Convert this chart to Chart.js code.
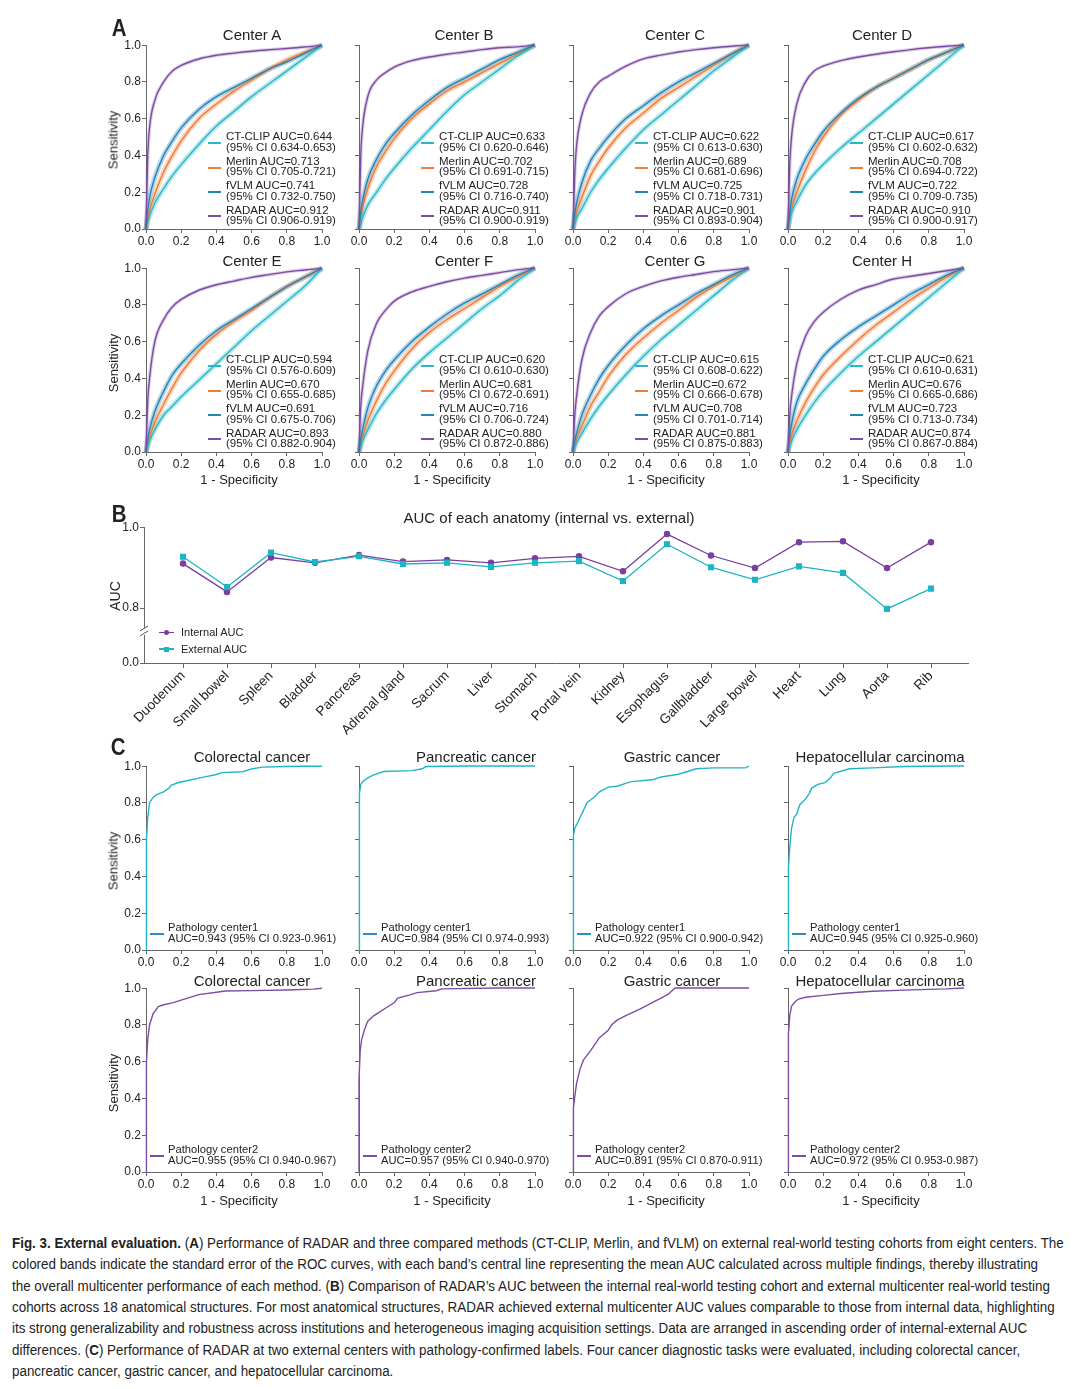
<!DOCTYPE html>
<html><head><meta charset="utf-8">
<script src="https://cdn.jsdelivr.net/npm/chart.js@4.4.1/dist/chart.umd.min.js"></script>
<style>
html,body{margin:0;padding:0;background:#fff;}
#page{position:relative;width:1080px;height:1389px;overflow:hidden;background:#fff;font-family:'Liberation Sans',Arial,sans-serif;color:#222;}
canvas{position:absolute;}
.t{position:absolute;white-space:nowrap;}
.cap{position:absolute;left:12px;white-space:nowrap;font-family:'Liberation Sans',Arial,sans-serif;color:#222;line-height:1;transform-origin:0 50%;}
</style></head><body><div id="page"></div>
<script>
// ---------------- DATA ----------------
// Panel A: false-positive rate grid at which the ROC curves were read
const FPR = [0,0.01,0.02,0.05,0.1,0.15,0.2,0.3,0.4,0.5,0.6,0.7,0.8,0.9,1];
const methods = ['CT-CLIP','Merlin','fVLM','RADAR'];
const centers = ['Center A','Center B','Center C','Center D','Center E','Center F','Center G','Center H'];

const ctclipA = [0,0.04,0.07,0.14,0.22,0.29,0.35,0.46,0.56,0.64,0.72,0.79,0.86,0.93,1];
const merlinA = [0,0.06,0.10,0.19,0.31,0.40,0.48,0.60,0.68,0.75,0.81,0.87,0.92,0.96,1];
const fvlmA   = [0,0.10,0.17,0.28,0.40,0.48,0.55,0.65,0.72,0.77,0.82,0.87,0.91,0.955,1];
const radarA  = [0,0.40,0.55,0.70,0.80,0.86,0.89,0.925,0.945,0.957,0.967,0.975,0.982,0.99,1];

const ctclipB = [0,0.03,0.06,0.13,0.20,0.27,0.33,0.44,0.54,0.64,0.73,0.80,0.87,0.94,1];
const merlinB = [0,0.07,0.12,0.22,0.34,0.42,0.49,0.60,0.68,0.75,0.80,0.85,0.90,0.95,1];
const fvlmB   = [0,0.09,0.15,0.27,0.38,0.46,0.52,0.62,0.70,0.77,0.82,0.87,0.92,0.96,1];
const radarB  = [0,0.40,0.55,0.72,0.81,0.85,0.88,0.915,0.935,0.95,0.962,0.975,0.985,0.99,1];

const ctclipC = [0,0.03,0.06,0.11,0.20,0.27,0.33,0.44,0.54,0.62,0.70,0.78,0.86,0.93,1];
const merlinC = [0,0.05,0.09,0.17,0.29,0.37,0.44,0.55,0.63,0.71,0.77,0.83,0.89,0.95,1];
const fvlmC   = [0,0.08,0.14,0.25,0.37,0.44,0.50,0.60,0.67,0.74,0.80,0.85,0.90,0.95,1];
const radarC  = [0,0.30,0.45,0.62,0.74,0.80,0.83,0.885,0.925,0.945,0.962,0.975,0.985,0.993,1];

const ctclipD = [0,0.05,0.09,0.15,0.24,0.30,0.35,0.44,0.52,0.60,0.68,0.76,0.84,0.92,1];
const merlinD = [0,0.06,0.11,0.20,0.32,0.42,0.50,0.62,0.70,0.77,0.82,0.87,0.92,0.96,1];
const fvlmD   = [0,0.09,0.16,0.27,0.38,0.46,0.53,0.63,0.71,0.77,0.82,0.87,0.92,0.96,1];
const radarD  = [0,0.35,0.50,0.68,0.80,0.86,0.885,0.915,0.935,0.95,0.963,0.975,0.985,0.993,1];

const ctclipE = [0,0.03,0.06,0.12,0.20,0.25,0.30,0.39,0.48,0.57,0.66,0.74,0.82,0.90,1];
const merlinE = [0,0.04,0.08,0.16,0.26,0.35,0.43,0.55,0.64,0.71,0.77,0.84,0.90,0.95,1];
const fvlmE   = [0,0.07,0.12,0.22,0.33,0.42,0.48,0.58,0.66,0.72,0.78,0.84,0.90,0.95,1];
const radarE  = [0,0.28,0.40,0.60,0.72,0.79,0.83,0.88,0.91,0.93,0.95,0.965,0.98,0.99,1];

const ctclipF = [0,0.03,0.06,0.12,0.21,0.28,0.34,0.45,0.54,0.62,0.70,0.78,0.85,0.93,1];
const merlinF = [0,0.04,0.08,0.17,0.28,0.37,0.44,0.56,0.65,0.72,0.78,0.84,0.90,0.95,1];
const fvlmF   = [0,0.07,0.12,0.24,0.36,0.44,0.50,0.60,0.68,0.75,0.81,0.86,0.91,0.96,1];
const radarF  = [0,0.25,0.35,0.55,0.70,0.77,0.82,0.87,0.90,0.925,0.945,0.96,0.975,0.99,1];

const ctclipG = [0,0.03,0.05,0.10,0.18,0.25,0.31,0.42,0.52,0.61,0.69,0.77,0.85,0.93,1];
const merlinG = [0,0.04,0.07,0.14,0.25,0.33,0.41,0.53,0.62,0.70,0.77,0.84,0.90,0.95,1];
const fvlmG   = [0,0.06,0.10,0.20,0.31,0.40,0.47,0.58,0.67,0.74,0.80,0.86,0.91,0.96,1];
const radarG  = [0,0.20,0.30,0.50,0.65,0.74,0.79,0.86,0.90,0.93,0.95,0.965,0.98,0.99,1];

const ctclipH = [0,0.03,0.06,0.12,0.20,0.27,0.33,0.43,0.52,0.60,0.68,0.76,0.84,0.92,1];
const merlinH = [0,0.05,0.09,0.17,0.27,0.35,0.42,0.52,0.61,0.69,0.76,0.83,0.89,0.95,1];
const fvlmH   = [0,0.09,0.15,0.27,0.37,0.45,0.52,0.61,0.68,0.74,0.80,0.86,0.91,0.96,1];
const radarH  = [0,0.20,0.30,0.48,0.63,0.71,0.76,0.83,0.88,0.91,0.94,0.955,0.97,0.985,1];

const aucA = ['0.644','0.713','0.741','0.912']; const ciA = ['0.634-0.653','0.705-0.721','0.732-0.750','0.906-0.919'];
const aucB = ['0.633','0.702','0.728','0.911']; const ciB = ['0.620-0.646','0.691-0.715','0.716-0.740','0.900-0.919'];
const aucC = ['0.622','0.689','0.725','0.901']; const ciC = ['0.613-0.630','0.681-0.696','0.718-0.731','0.893-0.904'];
const aucD = ['0.617','0.708','0.722','0.910']; const ciD = ['0.602-0.632','0.694-0.722','0.709-0.735','0.900-0.917'];
const aucE = ['0.594','0.670','0.691','0.893']; const ciE = ['0.576-0.609','0.655-0.685','0.675-0.706','0.882-0.904'];
const aucF = ['0.620','0.681','0.716','0.880']; const ciF = ['0.610-0.630','0.672-0.691','0.706-0.724','0.872-0.886'];
const aucG = ['0.615','0.672','0.708','0.881']; const ciG = ['0.608-0.622','0.666-0.678','0.701-0.714','0.875-0.883'];
const aucH = ['0.621','0.676','0.723','0.874']; const ciH = ['0.610-0.631','0.665-0.686','0.713-0.734','0.867-0.884'];

// Panel B
const anatomy = ['Duodenum','Small bowel','Spleen','Bladder','Pancreas','Adrenal gland','Sacrum','Liver','Stomach','Portal vein','Kidney','Esophagus','Gallbladder','Large bowel','Heart','Lung','Aorta','Rib'];
const internalAUC = [0.910,0.840,0.925,0.912,0.931,0.915,0.919,0.912,0.923,0.928,0.891,0.983,0.930,0.899,0.963,0.965,0.899,0.963];
const externalAUC = [0.927,0.852,0.937,0.914,0.928,0.909,0.912,0.902,0.912,0.916,0.867,0.958,0.901,0.870,0.903,0.887,0.798,0.848];
const bYTicks = [0.8,1.0];

// Panel C
const cancers = ['Colorectal cancer','Pancreatic cancer','Gastric cancer','Hepatocellular carcinoma'];
const crc1X  = [0,0,0.005,0.01,0.02,0.04,0.06,0.1,0.13,0.14,0.18,0.25,0.3,0.4,0.43,0.55,0.6,0.66,0.8,0.88,1];
const crc1Y  = [0,0.3,0.6,0.72,0.8,0.83,0.845,0.86,0.88,0.895,0.91,0.925,0.935,0.955,0.965,0.97,0.985,0.995,0.998,1,1];
const panc1X = [0,0,0.005,0.01,0.02,0.05,0.08,0.14,0.3,0.36,0.38,0.62,1];
const panc1Y = [0,0.45,0.85,0.9,0.915,0.935,0.95,0.97,0.975,0.985,0.997,1,1];
const gas1X  = [0,0,0.005,0.01,0.03,0.05,0.08,0.12,0.15,0.2,0.25,0.33,0.45,0.5,0.6,0.65,0.7,0.8,0.98,1];
const gas1Y  = [0,0.42,0.62,0.66,0.7,0.74,0.8,0.83,0.86,0.885,0.89,0.915,0.925,0.94,0.955,0.97,0.985,0.99,0.99,1];
const hcc1X  = [0,0,0.005,0.011,0.02,0.034,0.05,0.067,0.1,0.12,0.135,0.17,0.21,0.24,0.26,0.35,0.48,0.66,0.93,1];
const hcc1Y  = [0,0.3,0.45,0.57,0.66,0.72,0.74,0.79,0.82,0.85,0.88,0.9,0.91,0.935,0.96,0.985,0.99,0.997,1,1];
const crc2X  = [0,0,0.005,0.01,0.02,0.04,0.07,0.1,0.15,0.2,0.25,0.3,0.4,0.45,0.6,0.8,0.95,1];
const crc2Y  = [0,0.35,0.6,0.72,0.8,0.86,0.9,0.91,0.92,0.935,0.95,0.965,0.978,0.985,0.987,0.99,0.995,1];
const panc2X = [0,0,0.007,0.015,0.03,0.05,0.085,0.11,0.15,0.2,0.22,0.29,0.33,0.44,0.47,0.78,1];
const panc2Y = [0,0.5,0.66,0.72,0.77,0.82,0.85,0.865,0.89,0.92,0.945,0.963,0.975,0.985,0.995,1,1];
const gas2X  = [0,0,0.005,0.01,0.02,0.04,0.06,0.1,0.15,0.2,0.22,0.25,0.3,0.38,0.45,0.5,0.54,0.58,1];
const gas2Y  = [0,0.2,0.35,0.41,0.48,0.56,0.61,0.66,0.73,0.77,0.8,0.825,0.85,0.885,0.92,0.945,0.965,1,1];
const hcc2X  = [0,0,0.005,0.01,0.02,0.04,0.06,0.1,0.2,0.3,0.48,0.7,0.9,1];
const hcc2Y  = [0,0.55,0.75,0.85,0.9,0.925,0.94,0.95,0.96,0.97,0.982,0.99,0.995,1];
const aucC1 = ['0.943','0.984','0.922','0.945']; const ciC1 = ['0.923-0.961','0.974-0.993','0.900-0.942','0.925-0.960'];
const aucC2 = ['0.955','0.957','0.891','0.972']; const ciC2 = ['0.940-0.967','0.940-0.970','0.870-0.911','0.953-0.987'];

// ---------------- STYLE ----------------
const methodColors = ['#29B8C8','#EF7B36','#2384B6','#7D4CA6'];
const methodBands  = ['rgba(41,184,200,0.33)','rgba(239,123,54,0.33)','rgba(35,132,182,0.33)','rgba(125,76,166,0.28)'];
const bandWidths = [5,5,5,3.5];
const colX = [146,359,573,788];
const colTitleX = [252,464,675,882];
const cTitleX = [252,476,672,880];
const rowTopA = [45,268];
const rowTopC = [766,988];
const PW = 176, PH = 184;
const axisBreakValue = 0.741;

Chart.defaults.font.family = "'Liberation Sans', Arial, sans-serif";
Chart.defaults.color = '#222';

const page = document.getElementById('page');

function txt(s, x, y, size, o){
  o = o || {};
  const d = document.createElement('div'); d.className = 't';
  if (o.html) d.innerHTML = s; else d.textContent = s;
  d.style.fontSize = size + 'px'; d.style.left = x + 'px'; d.style.top = y + 'px';
  d.style.lineHeight = '1';
  let tr = o.left ? 'translate(0,-50%)' : 'translate(-50%,-50%)';
  if (o.rot) tr += ' rotate(-90deg)';
  if (o.sx) tr += ' scaleX(' + o.sx + ')';
  d.style.transform = tr;
  if (o.bold) d.style.fontWeight = 'bold';
  if (o.family) d.style.fontFamily = o.family;
  if (o.color) d.style.color = o.color;
  page.appendChild(d); return d;
}
function bar(x, y, w, h, color){
  const l = document.createElement('div'); l.style.position = 'absolute';
  l.style.left = x + 'px'; l.style.top = y + 'px'; l.style.width = w + 'px'; l.style.height = h + 'px';
  l.style.background = color; page.appendChild(l); return l;
}

function rocChart(left, top, datasets, showY){
  const YW = 40, PT = 8, PR = 14, XH = 22;
  const c = document.createElement('canvas');
  c.width = YW + PW + PR; c.height = PT + PH + XH;
  c.style.left = (left - YW) + 'px'; c.style.top = (top - PT) + 'px';
  c.style.width = c.width + 'px'; c.style.height = c.height + 'px';
  page.appendChild(c);
  const axis = (isX) => ({
    type: 'linear', min: 0, max: 1,
    afterFit(s){ if (isX) s.height = XH; else s.width = YW; },
    ticks: { stepSize: 0.2, callback: v => Number(v).toFixed(1), padding: 1, font: {size: 12}, color: '#222', maxRotation: 0, display: isX ? true : showY },
    grid: { display: true, drawOnChartArea: false, drawTicks: true, tickLength: 4, color: '#666' },
    border: { display: true, color: '#666', width: 1 }
  });
  new Chart(c, {
    type: 'line', data: { datasets: datasets },
    options: {
      responsive: false, animation: false, devicePixelRatio: 1,
      layout: { padding: { top: PT, right: PR, left: 0, bottom: 0 } },
      plugins: { legend: { display: false }, tooltip: { enabled: false } },
      elements: { point: { radius: 0 } },
      scales: { x: axis(true), y: axis(false) }
    }
  });
}
const pts = (xs, ys) => xs.map((x, i) => ({ x: x, y: ys[i] }));

// ---------------- PANEL A ----------------
const rocSets = [
  [ctclipA, merlinA, fvlmA, radarA], [ctclipB, merlinB, fvlmB, radarB],
  [ctclipC, merlinC, fvlmC, radarC], [ctclipD, merlinD, fvlmD, radarD],
  [ctclipE, merlinE, fvlmE, radarE], [ctclipF, merlinF, fvlmF, radarF],
  [ctclipG, merlinG, fvlmG, radarG], [ctclipH, merlinH, fvlmH, radarH]
];
const aucSets = [aucA, aucB, aucC, aucD, aucE, aucF, aucG, aucH];
const ciSets = [ciA, ciB, ciC, ciD, ciE, ciF, ciG, ciH];
const lineOrder = [2, 3, 1, 0];

rocSets.forEach((set, p) => {
  const col = p % 4, row = Math.floor(p / 4);
  const left = colX[col], top = rowTopA[row];
  const ds = [];
  set.forEach((arr, m) => {
    ds.push({ data: pts(FPR, arr), borderColor: methodBands[m], borderWidth: bandWidths[m], cubicInterpolationMode: 'monotone', order: 10 + m, clip: 6, pointRadius: 0 });
    ds.push({ data: pts(FPR, arr), borderColor: methodColors[m], borderWidth: 1.4, cubicInterpolationMode: 'monotone', order: lineOrder[m], clip: 6, pointRadius: 0 });
  });
  rocChart(left, top, ds, col === 0);
  txt(centers[p], colTitleX[col], top - (row === 0 ? 11.5 : 8), 15);
  if (col === 0) txt('Sensitivity', 113, top + 95, 13, { rot: true });
  if (row === 1) txt('1 - Specificity', left + 93, top + PH + 27, 13);
  methods.forEach((name, m) => {
    const y1 = top + 91.7 + m * 24.4;
    const d = txt(name + ' AUC=' + aucSets[p][m] + '<br>(95% CI ' + ciSets[p][m] + ')', left + 80, y1 - 5.4, 11.5, { html: true, left: true });
    d.style.transform = 'none'; d.style.lineHeight = '10.8px';
    bar(left + 62, y1 + 5.5, 13, m === 3 ? 1.5 : 2, methodColors[m]);
  });
});
const letterOpts = { bold: true, sx: 0.85 };
txt('A', 119, 28, 24, letterOpts);

// ---------------- PANEL B ----------------
(function(){
  const YW = 40, PT = 8, PR = 20, XH = 84;
  const left = 144, top = 527, W = 824, H = 136;
  const c = document.createElement('canvas');
  c.width = YW + W + PR; c.height = PT + H + XH;
  c.style.left = (left - YW) + 'px'; c.style.top = (top - PT) + 'px';
  c.style.width = c.width + 'px'; c.style.height = c.height + 'px';
  page.appendChild(c);
  const breakPlugin = { id: 'brk', afterDraw(ch){
    const y = ch.scales.y.getPixelForValue(axisBreakValue); const x = ch.chartArea.left; const ctx = ch.ctx;
    ctx.save(); ctx.fillStyle = '#fff'; ctx.fillRect(x - 2, y - 4, 4, 7);
    ctx.strokeStyle = '#555'; ctx.lineWidth = 1; ctx.beginPath();
    ctx.moveTo(x - 4, y - 1); ctx.lineTo(x + 4, y - 6);
    ctx.moveTo(x - 4, y + 4); ctx.lineTo(x + 4, y - 1);
    ctx.stroke(); ctx.restore();
  }};
  const bMin = 0.8 - 55 / 405;
  new Chart(c, {
    type: 'line',
    data: { datasets: [
      { label: 'Internal AUC', data: anatomy.map((a, i) => ({ x: i, y: internalAUC[i] })), borderColor: '#7A3F9F', backgroundColor: '#7A3F9F', borderWidth: 1.3, pointStyle: 'circle', pointRadius: 2.6, tension: 0, order: 1 },
      { label: 'External AUC', data: anatomy.map((a, i) => ({ x: i, y: externalAUC[i] })), borderColor: '#1DB4C4', backgroundColor: '#1DB4C4', borderWidth: 1.3, pointStyle: 'rect', pointRadius: 3.4, tension: 0, order: 0 }
    ]},
    options: {
      responsive: false, animation: false, devicePixelRatio: 1,
      layout: { padding: { top: PT, right: PR, left: 0, bottom: 0 } },
      plugins: { legend: { display: false }, tooltip: { enabled: false } },
      scales: {
        x: { type: 'linear', min: -39 / 44, max: -39 / 44 + W / 44,
          afterFit(s){ s.height = XH; },
          afterBuildTicks(s){ s.ticks = anatomy.map((a, i) => ({ value: i })); },
          ticks: { autoSkip: false, minRotation: 45, maxRotation: 45, padding: 0, font: { size: 13.5 }, color: '#222', callback: v => anatomy[Math.round(v)] },
          grid: { display: true, drawOnChartArea: false, tickLength: 5, color: '#666' },
          border: { display: true, color: '#666' } },
        y: { type: 'linear', min: bMin, max: 1.0,
          afterFit(s){ s.width = YW; },
          afterBuildTicks(s){ s.ticks = [{ value: bMin }].concat(bYTicks.map(v => ({ value: v }))); },
          ticks: { padding: 1, font: { size: 12 }, color: '#222', callback: v => (v < 0.7 ? '0.0' : Number(v).toFixed(1)) },
          grid: { display: true, drawOnChartArea: false, tickLength: 4, color: '#666' },
          border: { display: true, color: '#666' } }
      }
    },
    plugins: [breakPlugin]
  });
  txt('B', 119, 514, 24, letterOpts);
  txt('AUC of each anatomy (internal vs. external)', 549, 517, 15);
  txt('AUC', 115, 596, 14, { rot: true });
  // legend
  bar(159, 631.6, 15, 1.3, '#7A3F9F');
  const dot = bar(164, 630, 5, 5, '#7A3F9F'); dot.style.borderRadius = '50%';
  txt('Internal AUC', 181, 632, 11, { left: true });
  bar(159, 648.3, 15, 1.3, '#1DB4C4');
  bar(163.5, 646.5, 5, 5, '#1DB4C4');
  txt('External AUC', 181, 649, 11, { left: true });
})();

// ---------------- PANEL C ----------------
const cX = [crc1X, panc1X, gas1X, hcc1X, crc2X, panc2X, gas2X, hcc2X];
const cY = [crc1Y, panc1Y, gas1Y, hcc1Y, crc2Y, panc2Y, gas2Y, hcc2Y];
cX.forEach((xs, p) => {
  const col = p % 4, row = Math.floor(p / 4);
  const left = colX[col], top = rowTopC[row];
  const color = row === 0 ? '#22B4C8' : '#7D4CA6';
  rocChart(left, top, [{ data: pts(xs, cY[p]), borderColor: color, borderWidth: 1.4, tension: 0, clip: 6, pointRadius: 0 }], col === 0);
  txt(cancers[col], cTitleX[col], top - (row === 0 ? 10.5 : 8.5), 15);
  if (col === 0) txt('Sensitivity', 113, top + 95, 13, { rot: true });
  if (row === 1) txt('1 - Specificity', left + 93, top + PH + 28, 13);
  const auc = row === 0 ? aucC1 : aucC2, ci = row === 0 ? ciC1 : ciC2;
  const bottom = top + PH;
  const d = txt('Pathology center' + (row + 1) + '<br>AUC=' + auc[col] + ' (95% CI ' + ci[col] + ')', left + 22, bottom - 28, 11.2, { html: true, left: true });
  d.style.transform = 'none'; d.style.lineHeight = '10.8px';
  bar(left + 4, bottom - 17.5, 14, 2, row === 0 ? '#2A8EC0' : '#7D4CA6');
});
txt('C', 118, 747, 24, letterOpts);

// ---------------- CAPTION ----------------
const capLines = [
  '<b>Fig. 3. External evaluation.</b> (<b>A</b>) Performance of RADAR and three compared methods (CT-CLIP, Merlin, and fVLM) on external real-world testing cohorts from eight centers. The',
  'colored bands indicate the standard error of the ROC curves, with each band\u2019s central line representing the mean AUC calculated across multiple findings, thereby illustrating',
  'the overall multicenter performance of each method. (<b>B</b>) Comparison of RADAR\u2019s AUC between the internal real-world testing cohort and external multicenter real-world testing',
  'cohorts across 18 anatomical structures. For most anatomical structures, RADAR achieved external multicenter AUC values comparable to those from internal data, highlighting',
  'its strong generalizability and robustness across institutions and heterogeneous imaging acquisition settings. Data are arranged in ascending order of internal-external AUC',
  'differences. (<b>C</b>) Performance of RADAR at two external centers with pathology-confirmed labels. Four cancer diagnostic tasks were evaluated, including colorectal cancer,',
  'pancreatic cancer, gastric cancer, and hepatocellular carcinoma.'
];
const capEls = capLines.map((h, i) => {
  const d = document.createElement('div'); d.className = 'cap'; d.innerHTML = h;
  d.style.top = (1243 + i * 21.35) + 'px'; d.style.transform = 'translate(0,-50%)';
  d.style.fontSize = '15.5px';
  page.appendChild(d); return d;
});
function fitCaption(){
  const w = capEls[0].scrollWidth || capEls[0].offsetWidth;
  if (w > 0){ const k = 1052 / w; capEls.forEach(e => e.style.transform = 'translate(0,-50%) scaleX(' + k + ')'); }
}
fitCaption();
if (document.fonts && document.fonts.ready) document.fonts.ready.then(fitCaption);
</script></body></html>
